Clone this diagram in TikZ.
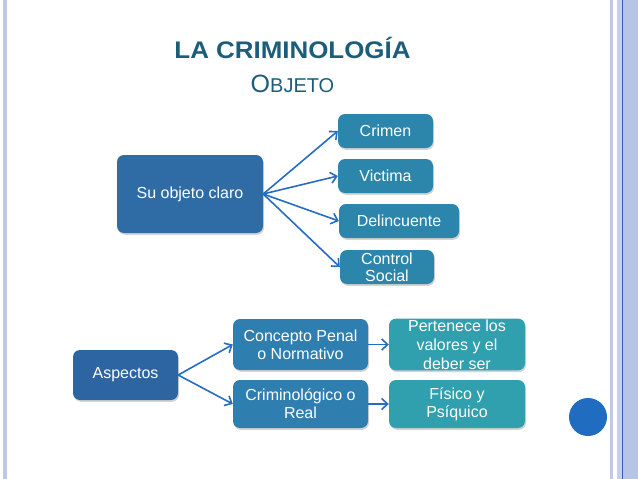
\documentclass[tikz,border=0pt]{standalone}
\usepackage{fontspec}
\setmainfont{Liberation Sans}
\usetikzlibrary{arrows.meta,shadows}
\definecolor{titlecol}{HTML}{1C5E7A}
\definecolor{socol}{HTML}{2F6CA6}
\definecolor{leafcol}{HTML}{2C86AC}
\definecolor{aspcol}{HTML}{2D64A2}
\definecolor{midcol}{HTML}{2E7FB0}
\definecolor{tealcol}{HTML}{31A0AE}
\definecolor{arrowcol}{HTML}{246CC4}
\definecolor{stripecol}{HTML}{BFC9DF}
\definecolor{bandcol}{HTML}{B6C5E6}
\definecolor{bandline}{HTML}{3A5BB0}
\definecolor{dotcol}{HTML}{1F6CC0}
\begin{document}
\begin{tikzpicture}[x=1pt,y=-1pt,
  boxnode/.style={rectangle, rounded corners=7pt, text=white, align=center,
    font=\fontsize{16}{17}\selectfont, inner sep=1pt,
    drop shadow={shadow xshift=1pt, shadow yshift=-1.8pt, opacity=0.35}},
  conn/.style={draw=arrowcol, line width=1.6pt, -{Straight Barb[length=6pt,width=11pt,line width=1.6pt]}}]
\useasboundingbox (0,0) rectangle (638,479);
% decorative borders
\fill[stripecol] (3,0) rectangle (7,479);
\fill[stripecol] (610,0) rectangle (613,479);
\fill[bandcol!80!white] (617,0) rectangle (622,479);
\fill[bandcol] (622,0) rectangle (638,479);
\draw[bandline, line width=1pt] (622,0) -- (622,479);
\fill[dotcol] (588,417) circle (19);
% title
\node[anchor=base, text=titlecol, inner sep=0pt] (title) at (292.5,58)
  {\fontsize{24}{24}\selectfont\bfseries\scalebox{1.08}[1]{LA CRIMINOLOGÍA}};
\node[anchor=base, text=titlecol, inner sep=0pt] (sub) at (292.5,92)
  {\fontsize{25}{25}\selectfont O\fontsize{20}{20}\selectfont BJETO};
% top group
\node[boxnode, fill=socol, minimum width=146pt, minimum height=78pt] (soc) at (190,194) {Su objeto claro};
\node[boxnode, fill=leafcol, minimum width=95pt, minimum height=34pt] (crimen) at (385.5,131) {Crimen};
\node[boxnode, fill=leafcol, minimum width=95pt, minimum height=34pt] (victima) at (385.5,176) {Victima};
\node[boxnode, fill=leafcol, minimum width=120pt, minimum height=34pt] (delinc) at (399,221) {Delincuente};
\node[boxnode, fill=leafcol, minimum width=94pt, minimum height=34pt] (control) at (387,267) {Control\\Social};
\draw[conn] (soc.east) -- (crimen.west);
\draw[conn] (soc.east) -- (victima.west);
\draw[conn] (soc.east) -- (delinc.west);
\draw[conn] (soc.east) -- (control.west);
% bottom group
\node[boxnode, fill=aspcol, minimum width=105pt, minimum height=50pt] (asp) at (125.5,375) {Aspectos};
\node[boxnode, fill=midcol, minimum width=135pt, minimum height=51pt, font=\fontsize{16}{18}\selectfont] (penal) at (300.5,344.5) {Concepto Penal\\o Normativo};
\node[boxnode, fill=midcol, minimum width=135pt, minimum height=48pt, font=\fontsize{16}{18}\selectfont] (crim) at (300.5,404) {Criminológico o\\Real};
\node[boxnode, fill=tealcol, minimum width=136pt, minimum height=51pt, font=\fontsize{16}{19}\selectfont] (pert) at (457,344.5) {Pertenece los\\valores y el\\deber ser};
\node[boxnode, fill=tealcol, minimum width=136pt, minimum height=48pt, font=\fontsize{16}{18}\selectfont] (fis) at (457,404) {Físico y\\Psíquico};
\draw[conn] (asp.east) -- (penal.west);
\draw[conn] (asp.east) -- (crim.west);
\draw[conn] (penal.east) -- (pert.west);
\draw[conn] (crim.east) -- (fis.west);
\end{tikzpicture}
\end{document}
